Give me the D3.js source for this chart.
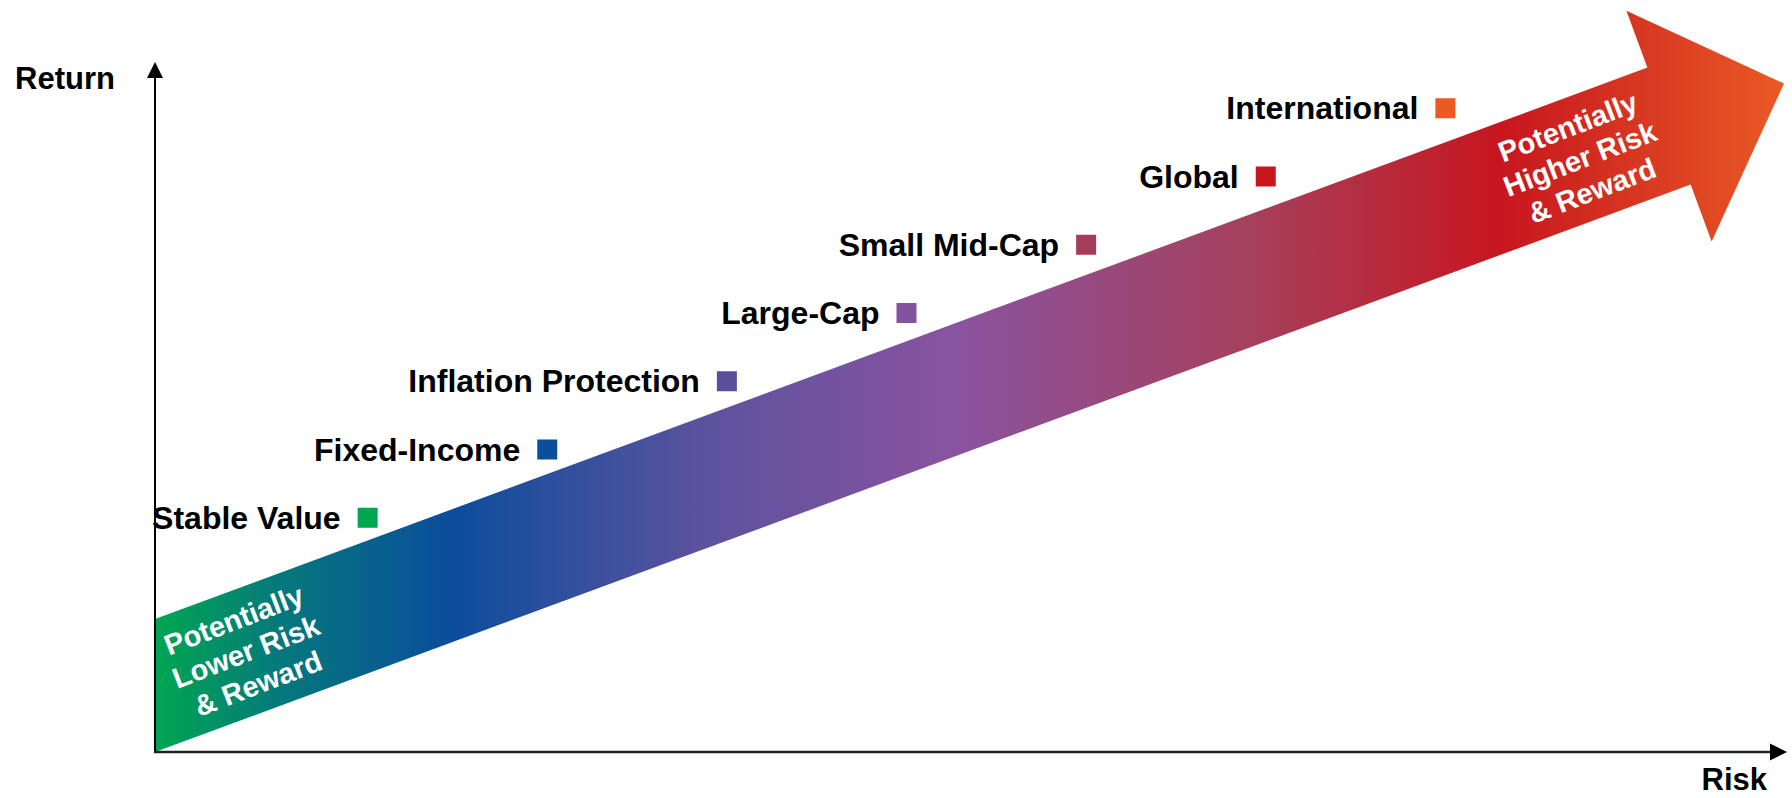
<!DOCTYPE html>
<html>
<head>
<meta charset="utf-8">
<script src="https://cdn.jsdelivr.net/npm/d3@7"></script>
<style>
  html, body { margin: 0; padding: 0; background: #fff; }
  svg { display: block; }
</style>
</head>
<body>
<div id="chart-area"></div>
<script>
var categories = ["Stable Value", "Fixed-Income", "Inflation Protection", "Large-Cap",
  "Small Mid-Cap", "Global", "International"];
var riskValues = [1, 2, 3, 4, 5, 6, 7];
var returnValues = [1, 2, 3, 4, 5, 6, 7];
var colors = ["#00a651", "#0b4f9c", "#5b4f9c", "#8453a0", "#a53d5a", "#c8161e", "#eb5a24"];

var lowLabel = ["Potentially", "Lower Risk", "& Reward"];
var highLabel = ["Potentially", "Higher Risk", "& Reward"];

var W = 1792, H = 798;
var originX = 155, originY = 752;
var font = "'Liberation Sans', Arial, sans-serif";

var x = d3.scaleLinear()
  .domain([0, 8])
  .range([188, 1625]);

var y = d3.scaleLinear()
  .domain([0, 8])
  .range([586, 40]);

var svg = d3.select("#chart-area")
  .append("svg")
  .attr("width", W)
  .attr("height", H);

// gradient for the big arrow
var grad = svg.append("defs")
  .append("linearGradient")
  .attr("id", "arrowGrad")
  .attr("gradientUnits", "userSpaceOnUse")
  .attr("x1", originX).attr("y1", 0)
  .attr("x2", 1784).attr("y2", 0);

var stops = [
  [0, "#00a651"], [0.077, "#05787c"], [0.181, "#0b4d9c"], [0.335, "#5b529e"],
  [0.488, "#8953a0"], [0.672, "#a6405c"], [0.826, "#c7161f"], [1, "#e95a24"]
];
grad.selectAll("stop")
  .data(stops)
  .enter()
  .append("stop")
  .attr("offset", function(d) { return d[0]; })
  .attr("stop-color", function(d) { return d[1]; });

// big arrow: shaft cut vertically at the y axis, head perpendicular to shaft
var slope = 0.3695;
var shaftH = 133;
var ang = Math.atan(slope);
var ux = Math.cos(ang), uy = -Math.sin(ang);
var nx = Math.sin(ang), ny = Math.cos(ang);
var baseX = 1669;
var baseY = originY - shaftH / 2 - slope * (baseX - originX);
var shaftHalf = (shaftH / 2) * Math.cos(ang);
var headHalf = 123, headLen = 122.6;

var arrowPts = [
  [originX, originY],
  [originX, originY - shaftH],
  [baseX - nx * shaftHalf, baseY - ny * shaftHalf],
  [baseX - nx * headHalf, baseY - ny * headHalf],
  [baseX + ux * headLen, baseY + uy * headLen],
  [baseX + nx * headHalf, baseY + ny * headHalf],
  [baseX + nx * shaftHalf, baseY + ny * shaftHalf]
];

svg.append("path")
  .attr("d", d3.line()(arrowPts) + "Z")
  .attr("fill", "url(#arrowGrad)");

// arrow texts
function arrowText(lines, cx) {
  var cy = originY - shaftH / 2 - slope * (cx - originX);
  var t = svg.append("text")
    .attr("transform", "translate(" + cx + "," + cy + ") rotate(-21)")
    .attr("text-anchor", "middle")
    .attr("font-family", font)
    .attr("font-weight", "bold")
    .attr("font-size", "29px")
    .attr("fill", "#fff");
  t.selectAll("tspan")
    .data(lines)
    .enter()
    .append("tspan")
    .attr("x", 0)
    .attr("y", function(d, i) { return (i - 1) * 34 + 10; })
    .text(function(d) { return d; });
}
arrowText(lowLabel, 246);
arrowText(highLabel, 1580);

// axes
svg.append("line")
  .attr("x1", originX).attr("y1", originY)
  .attr("x2", originX).attr("y2", 72)
  .attr("stroke", "#000")
  .attr("stroke-width", 2);

svg.append("path")
  .attr("d", "M" + (originX - 8) + ",78L" + originX + ",62L" + (originX + 8) + ",78Z")
  .attr("fill", "#000");

svg.append("line")
  .attr("x1", originX - 1).attr("y1", originY)
  .attr("x2", 1775).attr("y2", originY)
  .attr("stroke", "#222")
  .attr("stroke-width", 2.5);

svg.append("path")
  .attr("d", "M1770," + (originY - 8.5) + "L1787," + originY + "L1770," + (originY + 8.5) + "Z")
  .attr("fill", "#000");

svg.append("text")
  .attr("x", 15)
  .attr("y", 89)
  .attr("font-family", font)
  .attr("font-weight", "bold")
  .attr("font-size", "31px")
  .text("Return");

svg.append("text")
  .attr("x", 1767)
  .attr("y", 790)
  .attr("text-anchor", "end")
  .attr("font-family", font)
  .attr("font-weight", "bold")
  .attr("font-size", "31px")
  .text("Risk");

// fund categories
var fundData = categories.map(function(c, i) {
  return { name: c, risk: riskValues[i], ret: returnValues[i], color: colors[i] };
});

var sq = 20;

var funds = svg.selectAll(".fund")
  .data(fundData)
  .enter()
  .append("g")
  .attr("class", "fund");

funds.append("rect")
  .attr("x", function(d) { return x(d.risk) - sq / 2; })
  .attr("y", function(d) { return y(d.ret) - sq / 2; })
  .attr("width", sq)
  .attr("height", sq)
  .attr("fill", function(d) { return d.color; });

funds.append("text")
  .attr("x", function(d) { return x(d.risk) - sq / 2 - 17; })
  .attr("y", function(d) { return y(d.ret) + 11; })
  .attr("text-anchor", "end")
  .attr("font-family", font)
  .attr("font-weight", "bold")
  .attr("font-size", "32px")
  .attr("fill", "#000")
  .text(function(d) { return d.name; });
</script>
</body>
</html>
